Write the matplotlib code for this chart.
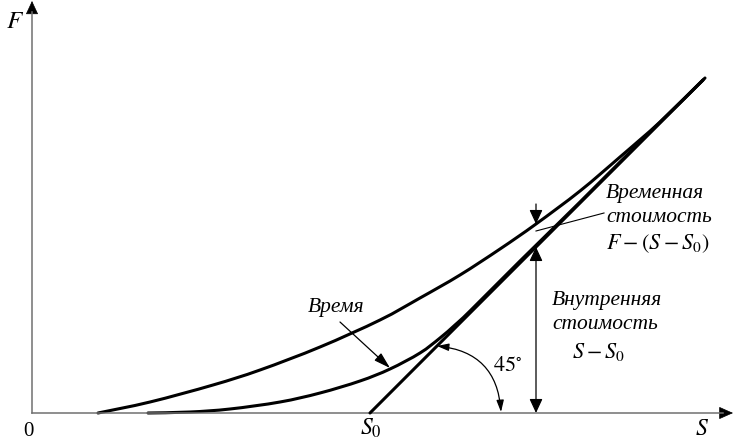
import matplotlib.pyplot as plt
from matplotlib.patches import FancyArrowPatch, PathPatch
from matplotlib.path import Path

plt.rcParams['mathtext.fontset'] = 'stix'

# chart units: origin at the axes corner, 1 unit = 1 px
s0 = 338
s_max, f_max = 701, 413

# upper curve (option price)
upper_s = [66, 118, 181, 228, 288, 348, 388, 428, 468, 504, 548, 588, 628, 671]
upper_f = [0, 11, 28, 43, 66, 93, 115, 138, 164, 189, 222, 256, 291, 333]

# lower curve (closer to expiry)
lower_s = [116, 158, 198, 248, 288, 328, 358, 388, 408, 423, 438, 488, 548, 608, 671]
lower_f = [0, 1, 4, 11, 20, 32, 44, 60, 75, 88, 102, 152, 211, 271, 333]

# intrinsic value line S - S0
line_s = [s0, 673]
line_f = [0, 673 - s0]

s_mark = 504          # where the value split is shown
f_mark_upper = 189
f_mark_line = s_mark - s0

ink = 'black'
axis_gray = '#707070'
serif = 'Liberation Serif'


def arrow(ax, a, b, style, lw=0.9, color=ink, conn='arc3', ms=10):
    p = FancyArrowPatch(a, b, arrowstyle=style, connectionstyle=conn,
                        color=color, lw=lw, mutation_scale=ms,
                        shrinkA=0, shrinkB=0)
    ax.add_patch(p)


def smooth_path(xs, ys):
    # bezier segments through the read points (catmull-rom tangents)
    pts = list(zip(xs, ys))
    verts = [pts[0]]
    codes = [Path.MOVETO]
    for i in range(len(pts) - 1):
        p0 = pts[max(i - 1, 0)]
        p1 = pts[i]
        p2 = pts[i + 1]
        p3 = pts[min(i + 2, len(pts) - 1)]
        c1 = (p1[0] + (p2[0] - p0[0]) / 6, p1[1] + (p2[1] - p0[1]) / 6)
        c2 = (p2[0] - (p3[0] - p1[0]) / 6, p2[1] - (p3[1] - p1[1]) / 6)
        verts += [c1, c2, p2]
        codes += [Path.CURVE4] * 3
    return Path(verts, codes)


fig = plt.figure(figsize=(7.33, 4.40), dpi=100)
ax = fig.add_axes([0, 0, 1, 1])
ax.set_xlim(-32, s_max)
ax.set_ylim(-27, f_max)
ax.axis('off')

# axes
ax.plot([0, s_max - 10], [0, 0], color=axis_gray, lw=1.1)
ax.plot([0, 0], [0, f_max - 12], color=axis_gray, lw=1.1)
arrow(ax, (s_max - 13, 0), (s_max, 0), '-|>,head_length=0.9,head_width=0.4', lw=0.5)
arrow(ax, (0, f_max - 13), (0, f_max - 1), '-|>,head_length=0.86,head_width=0.4', lw=0.5)

# curves
for xs, ys in [(upper_s, upper_f), (lower_s, lower_f)]:
    ax.add_patch(PathPatch(smooth_path(xs, ys), fill=False, edgecolor=ink,
                           lw=2.2, capstyle='round'))
ax.plot(line_s, line_f, color=ink, lw=2.2, solid_capstyle='round')

# time value / intrinsic value arrows
arrow(ax, (s_mark, f_mark_upper + 20), (s_mark, f_mark_upper),
      '-|>,head_length=0.86,head_width=0.4')
arrow(ax, (s_mark, f_mark_line), (s_mark, 0),
      '<|-|>,head_length=0.86,head_width=0.4')
ax.plot([s_mark, 572], [182, 200], color=ink, lw=0.8)

# "Время" pointer
arrow(ax, (308, 91), (358, 45), '-|>,head_length=1.0,head_width=0.3')

# 45 degree arc
arrow(ax, (405, 67), (469, 1), '<|-|>,head_length=0.7,head_width=0.22',
      conn='arc3,rad=-0.42')

txt = dict(family=serif, style='italic', fontsize=15.5, va='center', ha='left')
ax.text(574, 220, 'Временная', **txt)
ax.text(574, 196, 'стоимость', **txt)
ax.text(574, 169, r'$F-(S-S_0)$', fontsize=16, va='center', ha='left')
ax.text(520, 113, 'Внутренняя', **txt)
ax.text(520, 89, 'стоимость', **txt)
ax.text(540, 61, r'$S-S_0$', fontsize=16, va='center', ha='left')
ax.text(304, 106, 'Время', family=serif, style='italic', fontsize=15.5,
        va='center', ha='center')
ax.text(461, 48, r'$45^{\circ}$', fontsize=16, va='center', ha='left')

ax.text(-17, 392, r'$F$', fontsize=18, va='center', ha='center')
ax.text(-4, -18, '0', family=serif, fontsize=15, va='center', ha='center')
ax.text(339, -15, r'$S_0$', fontsize=17, va='center', ha='center')
ax.text(670, -15, r'$S$', fontsize=17, va='center', ha='center')

fig.savefig('out.png', dpi=100)
